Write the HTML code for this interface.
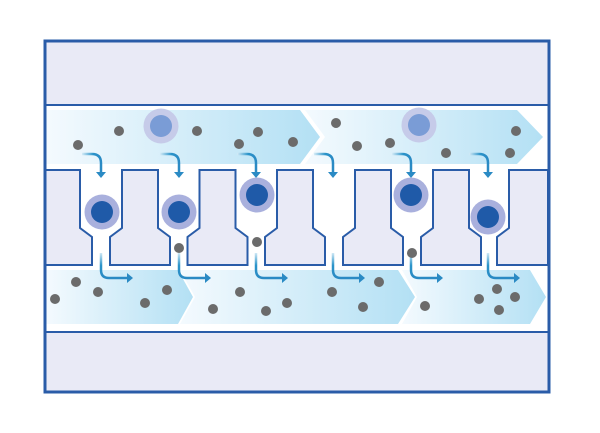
<!DOCTYPE html>
<html><head><meta charset="utf-8"><style>html,body{margin:0;padding:0;background:#fff}svg{display:block}</style></head><body>
<svg width="600" height="433" viewBox="0 0 600 433" xmlns="http://www.w3.org/2000/svg">
<defs>
<linearGradient id="ag" x1="0" x2="1" y1="0" y2="0"><stop offset="0" stop-color="#f4fafe"/><stop offset="1" stop-color="#b3e0f4"/></linearGradient>
<linearGradient id="fl" x1="0" x2="0" y1="0" y2="1"><stop offset="0" stop-color="#cfe8f5"/><stop offset="0.5" stop-color="#2a93c9"/><stop offset="1" stop-color="#2a8ac4"/></linearGradient>
<linearGradient id="fl2" x1="0" x2="1" y1="0" y2="0"><stop offset="0" stop-color="#d6ecf7"/><stop offset="0.6" stop-color="#2a93c9"/><stop offset="1" stop-color="#2a8ac4"/></linearGradient>
</defs>
<rect x="45" y="41" width="504" height="351" fill="#fff"/>
<rect x="45" y="41" width="504" height="64" fill="#e9eaf6"/>
<rect x="45" y="332" width="504" height="60" fill="#e9eaf6"/>
<!-- top arrows -->
<path d="M46 110 H300 L320 137 L300 164 H46 Z" fill="url(#ag)"/>
<path d="M305 110 H517 L543 137 L517 164 H305 L325 137 Z" fill="url(#ag)"/>
<!-- bottom arrows -->
<path d="M46 270 H178 L193 297 L178 324 H46 Z" fill="url(#ag)"/>
<path d="M180 270 H398 L415 297 L398 324 H180 L195 297 Z" fill="url(#ag)"/>
<path d="M402 270 H530 L546 297 L530 324 H402 L417 297 Z" fill="url(#ag)"/>
<!-- pillars -->
<g fill="#e9eaf6" stroke="#2a5ca8" stroke-width="2" stroke-linejoin="miter">
<path d="M45 170 H80 V228 L92 237 V265 H45 Z"/>
<g id="p"><path d="M122 170 H158 V228 L170 237 V265 H110 V237 L122 228 Z"/></g>
<use href="#p" x="77.5"/>
<use href="#p" x="155"/>
<use href="#p" x="233"/>
<use href="#p" x="311"/>
<path d="M509 170 H548 V265 H497 V237 L509 228 Z"/>
</g>
<line x1="45" y1="105" x2="549" y2="105" stroke="#2a5ca8" stroke-width="2"/>
<line x1="45" y1="332" x2="549" y2="332" stroke="#2a5ca8" stroke-width="2"/>
<rect x="45" y="41" width="504" height="351" fill="none" stroke="#2a5ca8" stroke-width="3"/>
<!-- flow arrows -->
<g id="fa">
<path d="M82 154 H92 Q101 154 101 163 V172" fill="none" stroke="url(#fl2)" stroke-width="2.5"/>
<path d="M96 172 H106 L101 178 Z" fill="#2a8ac4"/>
<path d="M101 253 V270 Q101 278 109 278 H127" fill="none" stroke="url(#fl)" stroke-width="2.5"/>
<path d="M127 273 V283 L133 278 Z" fill="#2a8ac4"/>
</g>
<use href="#fa" x="78"/>
<use href="#fa" x="155"/>
<use href="#fa" x="232"/>
<use href="#fa" x="310"/>
<use href="#fa" x="387"/>
<!-- cells -->
<g>
<circle cx="161" cy="126" r="17.5" fill="#c6cbe9"/><circle cx="161" cy="126" r="11" fill="#7a9cd6"/>
<circle cx="419" cy="125" r="17.5" fill="#c6cbe9"/><circle cx="419" cy="125" r="11" fill="#7a9cd6"/>
<g fill="#a9b0dd"><circle cx="102" cy="212" r="17.5"/><circle cx="179" cy="212" r="17.5"/><circle cx="257" cy="195" r="17.5"/><circle cx="411" cy="195" r="17.5"/><circle cx="488" cy="217" r="17.5"/></g>
<g fill="#1f5aa8"><circle cx="102" cy="212" r="11"/><circle cx="179" cy="212" r="11"/><circle cx="257" cy="195" r="11"/><circle cx="411" cy="195" r="11"/><circle cx="488" cy="217" r="11"/></g>
</g>
<!-- dots -->
<g fill="#6b6b6b">
<circle cx="78" cy="145" r="5"/><circle cx="119" cy="131" r="5"/><circle cx="197" cy="131" r="5"/><circle cx="239" cy="144" r="5"/><circle cx="258" cy="132" r="5"/><circle cx="293" cy="142" r="5"/>
<circle cx="336" cy="123" r="5"/><circle cx="357" cy="146" r="5"/><circle cx="390" cy="143" r="5"/><circle cx="446" cy="153" r="5"/><circle cx="516" cy="131" r="5"/><circle cx="510" cy="153" r="5"/>
<circle cx="179" cy="248" r="5"/><circle cx="257" cy="242" r="5"/><circle cx="412" cy="253" r="5"/>
<circle cx="76" cy="282" r="5"/><circle cx="98" cy="292" r="5"/><circle cx="55" cy="299" r="5"/><circle cx="145" cy="303" r="5"/><circle cx="167" cy="290" r="5"/><circle cx="240" cy="292" r="5"/><circle cx="213" cy="309" r="5"/><circle cx="266" cy="311" r="5"/><circle cx="287" cy="303" r="5"/>
<circle cx="379" cy="282" r="5"/><circle cx="332" cy="292" r="5"/><circle cx="363" cy="307" r="5"/><circle cx="425" cy="306" r="5"/><circle cx="497" cy="289" r="5"/><circle cx="479" cy="299" r="5"/><circle cx="515" cy="297" r="5"/><circle cx="499" cy="310" r="5"/>
</g>
</svg>
</body></html>
